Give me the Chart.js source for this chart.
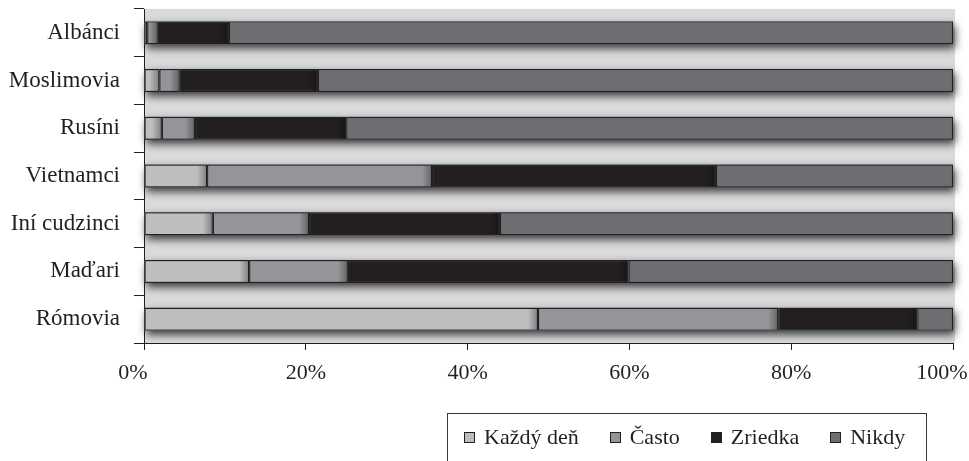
<!DOCTYPE html>
<html lang="sk">
<head>
<meta charset="UTF-8">
<title>Kontakt s menšinami</title>
<script src="https://cdn.jsdelivr.net/npm/chart.js"></script>
<style>
    body { margin: 0; background: #fff; overflow: hidden; }
    #wrap { position: relative; width: 969px; height: 461px; }
    #legend {
        position: absolute; left: 447px; top: 413px; width: 480px; height: 70px;
        box-sizing: border-box; border: 1px solid #3a3a3a;
        display: flex; align-items: center;
        padding: 0 0 22px 16px;
        font-family: 'Liberation Serif', serif; font-size: 22px; line-height: 24px; color: #231f20;
    }
    .item { display: flex; align-items: center; margin-right: 31px; white-space: nowrap; }
    .swatch { width: 11px; height: 11px; box-sizing: border-box; border: 1px solid #231f20; margin-right: 9px; }
</style>
</head>
<body>
<div id="wrap">
    <canvas id="chart" width="969" height="461"></canvas>
    <div id="legend"></div>
</div>
<script>
    const categories = ['Albánci', 'Moslimovia', 'Rusíni', 'Vietnamci', 'Iní cudzinci', 'Maďari', 'Rómovia'];
    const seriesNames = ['Každý deň', 'Často', 'Zriedka', 'Nikdy'];
    const kazdyDen = [0.4, 1.9, 2.2, 7.8, 8.5, 13.0, 48.7];
    const casto = [1.3, 2.5, 4.1, 27.8, 11.9, 12.2, 29.7];
    const zriedka = [8.8, 17.1, 18.7, 35.1, 23.6, 34.7, 17.2];
    const nikdy = [89.5, 78.5, 75.0, 29.3, 56.0, 40.1, 4.4];
    const xTicks = [0, 20, 40, 60, 80, 100];
    const colors = ['#bcbec0', '#939598', '#231f20', '#6d6e71'];

    const ink = '#231f20';
    const serif = 'Liberation Serif';

    // grey plot area behind the bars
    const plotBackground = {
        id: 'plotBackground',
        beforeDraw(chart) {
            const { ctx, chartArea: a } = chart;
            ctx.save();
            ctx.fillStyle = '#d9dadc';
            ctx.fillRect(a.left, a.top, a.right - a.left + 2, a.bottom - a.top);
            ctx.restore();
        }
    };

    function barBox(el) {
        return el.getProps(['x', 'base', 'y', 'height'], true);
    }

    // soft drop shadow under each stacked bar, darker fade at the end of each segment
    const barShading = {
        id: 'barShading',
        beforeDatasetsDraw(chart) {
            const { ctx } = chart;
            const metas = chart.getSortedVisibleDatasetMetas();
            ctx.save();
            ctx.shadowColor = 'rgba(0,0,0,0.75)';
            ctx.shadowBlur = 9;
            ctx.shadowOffsetX = 2;
            ctx.shadowOffsetY = 4;
            ctx.fillStyle = '#6d6e71';
            categories.forEach((c, i) => {
                let left = Infinity, right = -Infinity, y = 0, h = 0;
                metas.forEach(m => {
                    const p = barBox(m.data[i]);
                    left = Math.min(left, p.base, p.x);
                    right = Math.max(right, p.base, p.x);
                    y = p.y;
                    h = p.height;
                });
                ctx.fillRect(left, y - h / 2, right - left, h);
            });
            ctx.restore();
        },
        afterDatasetsDraw(chart) {
            const { ctx } = chart;
            const last = chart.data.datasets.length - 1;
            ctx.save();
            chart.getSortedVisibleDatasetMetas().forEach(m => {
                if (m.index === last) return;
                m.data.forEach(el => {
                    const p = barBox(el);
                    const w = Math.min(10, p.x - p.base - 2);
                    if (w < 2) return;
                    const g = ctx.createLinearGradient(p.x - w, 0, p.x - 1, 0);
                    g.addColorStop(0, 'rgba(0,0,0,0)');
                    g.addColorStop(1, 'rgba(0,0,0,0.3)');
                    ctx.fillStyle = g;
                    ctx.fillRect(p.x - w, p.y - p.height / 2 + 1, w - 1, p.height - 2);
                });
            });
            ctx.restore();
        }
    };

    const values = [kazdyDen, casto, zriedka, nikdy];

    const chart = new Chart(document.getElementById('chart'), {
        type: 'bar',
        data: {
            labels: categories,
            datasets: seriesNames.map((name, i) => ({
                label: name,
                data: values[i],
                backgroundColor: colors[i],
                borderColor: ink,
                borderWidth: 1.2,
                borderSkipped: false,
                categoryPercentage: 1,
                barPercentage: 0.48
            }))
        },
        options: {
            indexAxis: 'y',
            responsive: false,
            animation: false,
            layout: { padding: { top: 9, right: 16, bottom: 74, left: 0 } },
            plugins: {
                legend: { display: false },
                tooltip: { enabled: false }
            },
            scales: {
                x: {
                    stacked: true,
                    min: 0,
                    max: 100,
                    afterBuildTicks: (s) => { s.ticks = xTicks.map(v => ({ value: v })); },
                    grid: { drawOnChartArea: false, tickLength: 7, color: ink, lineWidth: 1 },
                    border: { color: ink, width: 1 },
                    ticks: {
                        padding: 10,
                        color: ink,
                        maxRotation: 0,
                        autoSkip: false,
                        font: { family: serif, size: 22 },
                        // end labels sit a little left of their ticks
                        callback: (v) => (v === 0 || v === 100) ? v + '%\u2007\u2007' : v + '%'
                    },
                    afterFit: (s) => { s.height = 44; s.paddingLeft = 0; s.paddingRight = 0; }
                },
                y: {
                    stacked: true,
                    grid: { offset: true, drawOnChartArea: false, tickLength: 10, color: ink, lineWidth: 1 },
                    border: { color: ink, width: 1 },
                    ticks: {
                        padding: 14,
                        color: ink,
                        autoSkip: false,
                        font: { family: serif, size: 23 }
                    },
                    afterFit: (s) => { s.width = 144; s.paddingTop = 0; s.paddingBottom = 0; }
                }
            }
        },
        plugins: [plotBackground, barShading]
    });

    // boxed legend below the plot
    const legend = document.getElementById('legend');
    chart.data.datasets.forEach(ds => {
        const item = document.createElement('div');
        item.className = 'item';
        const sw = document.createElement('span');
        sw.className = 'swatch';
        sw.style.background = ds.backgroundColor;
        const txt = document.createElement('span');
        txt.textContent = ds.label;
        item.appendChild(sw);
        item.appendChild(txt);
        legend.appendChild(item);
    });
</script>
</body>
</html>
